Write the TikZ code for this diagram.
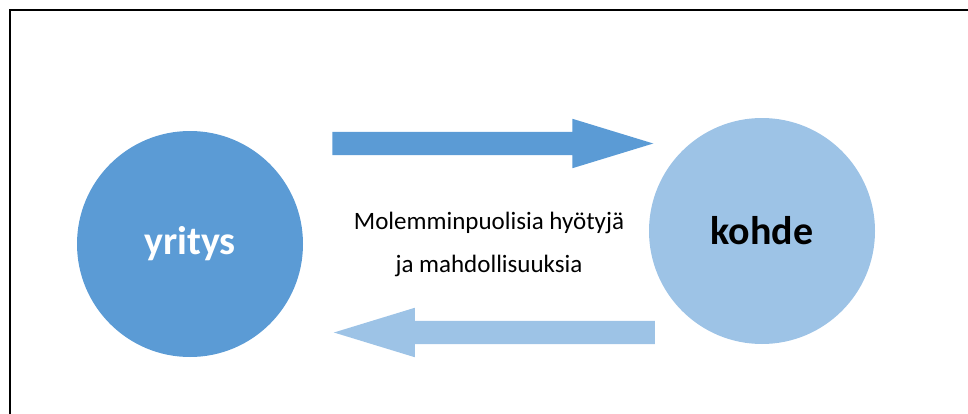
\documentclass[tikz,border=0pt]{standalone}
\usepackage{fontspec}
\setmainfont{Carlito}
\usetikzlibrary{shapes.arrows, positioning}
\definecolor{darkblue}{HTML}{5B9BD5}
\definecolor{lightblue}{HTML}{9DC3E6}
\tikzstyle{party} = [circle, minimum size=169.5pt, inner sep=0pt, font=\fontsize{30}{36}\selectfont\bfseries]
\tikzstyle{flow} = [single arrow, minimum height=240.75pt, inner xsep=0pt, inner ysep=8.6pt, single arrow head extend=9.75pt, single arrow tip angle=34]
\tikzstyle{caption} = [anchor=base, inner sep=0pt, font=\fontsize{18.75}{22}\selectfont]

\begin{document}
\begin{tikzpicture}[x=0.75pt, y=-0.75pt]
	\useasboundingbox (0,0) rectangle (968,414);
	\draw [line width=1.8pt] (10,414) -- (10,10) -- (968,10);
	\node (Yritys) [party, fill=darkblue, text=white] at (190,244) {yritys};
	\node (Kohde) [party, fill=lightblue] at (762,231) {kohde};
	\node (Forward) [flow, fill=darkblue, anchor=tail] at (332,143.5) {};
	\node (Backward) [flow, fill=lightblue, shape border rotate=180, anchor=tip] at (333,332.5) {};
	\node (Mutual) [caption] at (489,229) {Molemminpuolisia hyötyjä};
	\node (Chances) [caption] at (489,272) {ja mahdollisuuksia};
\end{tikzpicture}
\end{document}
